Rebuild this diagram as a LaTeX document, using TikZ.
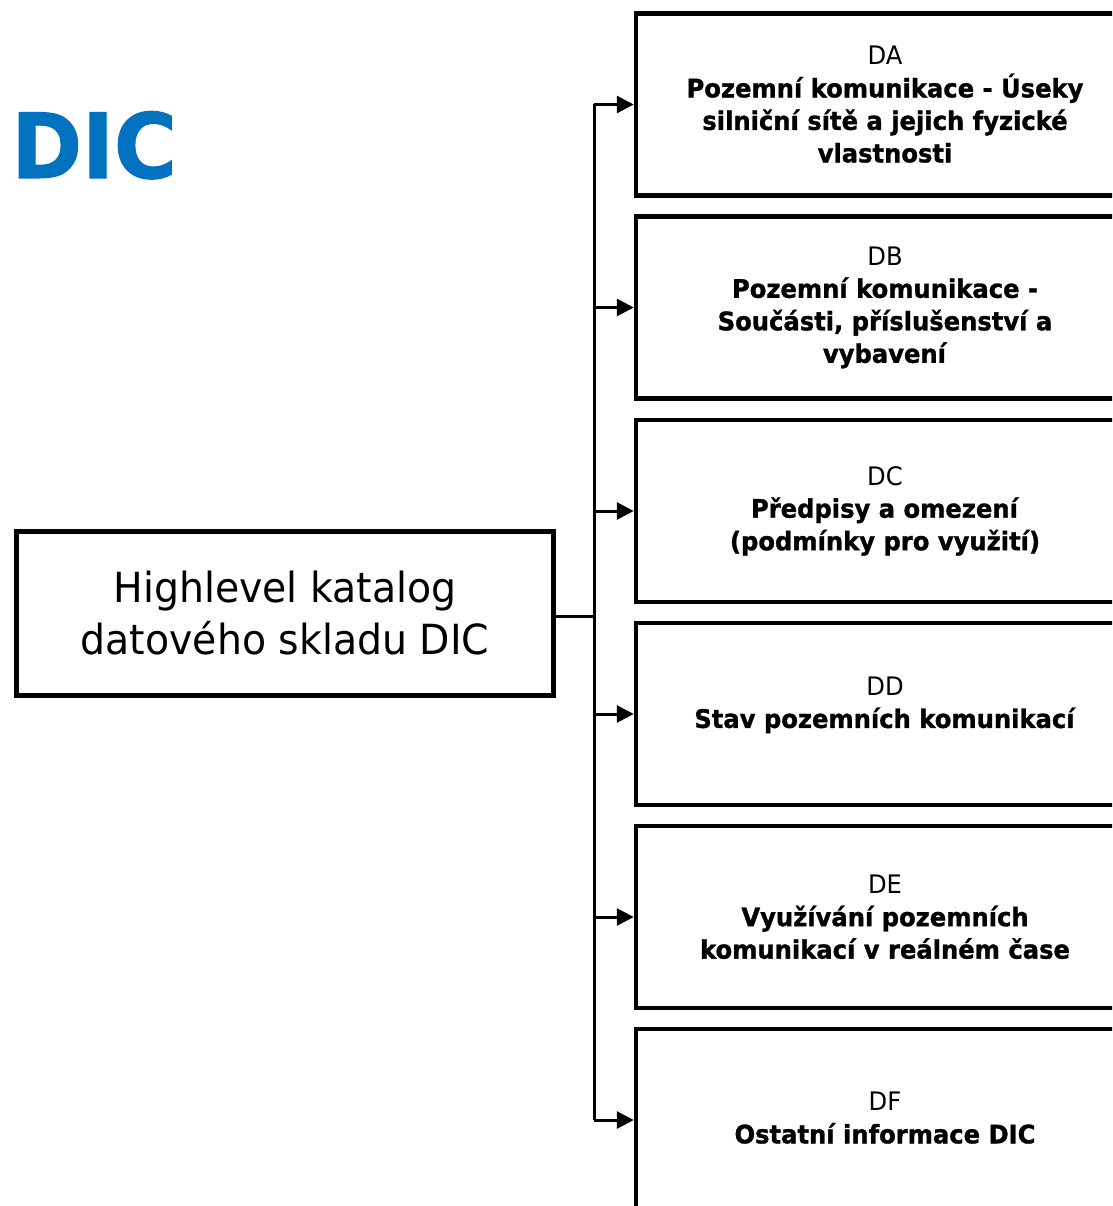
\documentclass[tikz,border=0pt]{standalone}
\usepackage{fontspec}
\setmainfont{DejaVu Sans}[FakeStretch=0.95, BoldFeatures={FakeBold=1.2}]
\usetikzlibrary{arrows.meta}
\definecolor{dicblue}{RGB}{0,114,192}
\tikzset{
  catbox/.style={draw=black, line width=4.5pt, minimum width=498pt, minimum height=182pt, inner sep=0pt},
  cattext/.style={align=center, inner sep=0pt, font=\fontsize{25.5}{32.5}\selectfont},
  mainbox/.style={draw=black, line width=5.5pt, minimum width=537pt, minimum height=164pt, inner sep=0pt,
    align=center, font=\fontsize{41.5}{52}\selectfont},
  feed/.style={line width=3pt, -{Triangle[length=17pt,width=17pt]}},
  link/.style={line width=3pt}
}
\begin{document}
\begin{tikzpicture}[x=1pt,y=-1pt]
\clip (0,0) rectangle (1112,1206);
\fill[white] (0,0) rectangle (1112,1206);

% heading
\node[anchor=base west, inner sep=0pt, text=dicblue, font=\fontsize{90}{90}\selectfont\bfseries] (title) at (11,178) {DIC};

% root of the catalogue
\node[mainbox] (root) at (285,613.5) {Highlevel katalog\\datového skladu DIC};

% category boxes
\node[catbox] (DA) at (885,104.5) {};
\node[catbox] (DB) at (885,307.5) {};
\node[catbox] (DC) at (885,511) {};
\node[catbox] (DD) at (885,714) {};
\node[catbox] (DE) at (885,917) {};
\node[catbox] (DF) at (885,1120) {};

\node[cattext] (DAt) at (DA.center) {DA\\\textbf{Pozemní komunikace - Úseky}\\\textbf{silniční sítě a jejich fyzické}\\\textbf{vlastnosti}};
\node[cattext] (DBt) at (DB.center) {DB\\\textbf{Pozemní komunikace -}\\\textbf{Součásti, příslušenství a}\\\textbf{vybavení}};
\node[cattext] (DCt) at (DC.center) {DC\\\textbf{Předpisy a omezení}\\\textbf{(podmínky pro využití)}};
\node[cattext] (DDt) at ([yshift=9pt]DD.center) {DD\\\textbf{Stav pozemních komunikací}};
\node[cattext] (DEt) at (DE.center) {DE\\\textbf{Využívání pozemních}\\\textbf{komunikací v reálném čase}};
\node[cattext] (DFt) at ([yshift=2pt]DF.center) {DF\\\textbf{Ostatní informace DIC}};

% connectors
\coordinate (bus) at (594,616);
\draw[link] (root.east |- bus) -- (bus);
\draw[link] (bus |- DA.west) -- (bus |- DF.west);
\foreach \b in {DA,DB,DC,DD,DE,DF}
  \draw[feed] (bus |- \b.west) -- (\b.west);
\end{tikzpicture}
\end{document}
